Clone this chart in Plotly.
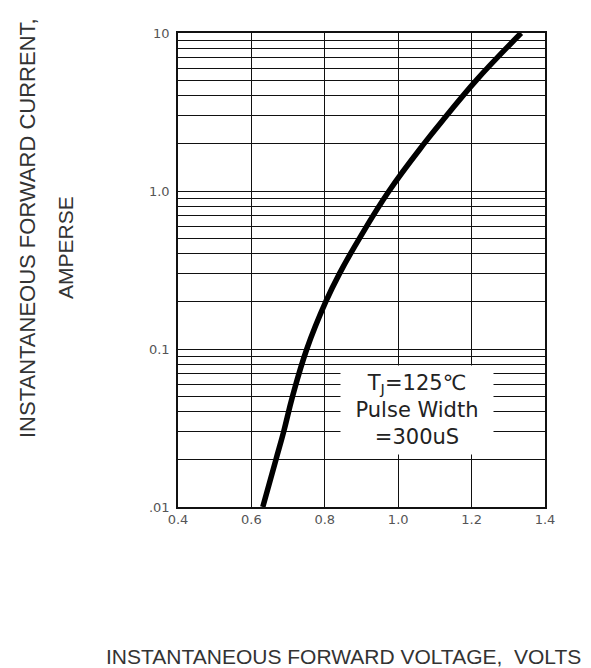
import plotly.graph_objects as go
import math

# Curve data (forward voltage V, forward current A)
voltage = [0.631, 0.667, 0.688, 0.712, 0.751, 0.803, 0.840, 0.894, 0.975,
           1.071, 1.132, 1.212, 1.335]
current = [0.01, 0.02, 0.03, 0.05, 0.10, 0.20, 0.30, 0.50, 1.00,
           2.00, 3.00, 5.00, 10.0]

x_ticks = [0.4, 0.6, 0.8, 1.0, 1.2, 1.4]
x_ticktext = ["0.4", "0.6", "0.8", "1.0", "1.2", "1.4"]
y_ticks = [0.01, 0.1, 1, 10]
y_ticktext = [".01", "0.1", "1.0", "10"]
y_minor = [m * d for d in (0.01, 0.1, 1) for m in range(2, 10)]

OFF = 8  # page body margin
W, H = 591 - OFF, 668 - OFF
L, R, T, B = 178 - OFF, 46, 33 - OFF, 161
pw, ph = W - L - R, H - T - B

def px_x(p):
    return (p - OFF - L) / pw

def px_y(p):
    return (H - B - (p - OFF)) / ph

fig = go.Figure()
fig.add_trace(go.Scatter(
    x=voltage, y=current, mode="lines",
    line=dict(color="black", width=5.5, shape="spline", smoothing=1.2),
    hoverinfo="skip", showlegend=False,
))

tickfont = dict(family="DejaVu Sans", size=13, color="#555")
titlefont = dict(family="Liberation Sans", size=21, color="#333")

fig.update_layout(
    width=W, height=H,
    margin=dict(l=L, r=R, t=T, b=B),
    paper_bgcolor="white", plot_bgcolor="white",
    xaxis=dict(
        range=[0.4, 1.4], tickvals=x_ticks, ticktext=x_ticktext,
        showgrid=True, gridcolor="#111", gridwidth=1,
        showline=True, linecolor="#111", linewidth=1.5, mirror=True,
        zeroline=False, ticks="", tickfont=tickfont,
    ),
    yaxis=dict(
        type="log", range=[-2, 1], tickvals=y_ticks, ticktext=y_ticktext,
        showgrid=True, gridcolor="#111", gridwidth=1,
        showline=True, linecolor="#111", linewidth=1.5, mirror=True,
        zeroline=False, ticks="", tickfont=tickfont, ticklabelstandoff=4,
        minor=dict(tickvals=y_minor, showgrid=True, gridcolor="#111", gridwidth=1, ticks=""),
    ),
    annotations=[
        dict(
            x=1.052, y=math.log10(0.0414), xref="x", yref="y",
            text="T<sub>J</sub>=125℃<br>Pulse Width<br>=300uS",
            showarrow=False, bgcolor="white", width=150, height=86,
            font=dict(family="DejaVu Sans", size=21, color="#222"),
            align="center", xanchor="center", yanchor="middle",
        ),
        dict(
            x=px_x(27), y=px_y(228), xref="paper", yref="paper",
            text="INSTANTANEOUS FORWARD CURRENT,", textangle=-90,
            showarrow=False, xanchor="center", yanchor="middle",
            font=dict(family="Liberation Sans", size=22, color="#333"),
        ),
        dict(
            x=px_x(65), y=px_y(248), xref="paper", yref="paper",
            text="AMPERSE", textangle=-90,
            showarrow=False, xanchor="center", yanchor="middle",
            font=dict(family="Liberation Sans", size=21, color="#333"),
        ),
        dict(
            x=px_x(343), y=px_y(656), xref="paper", yref="paper",
            text="INSTANTANEOUS FORWARD VOLTAGE,  VOLTS",
            showarrow=False, xanchor="center", yanchor="middle",
            font=titlefont,
        ),
    ],
)

fig.write_html("out.html")
